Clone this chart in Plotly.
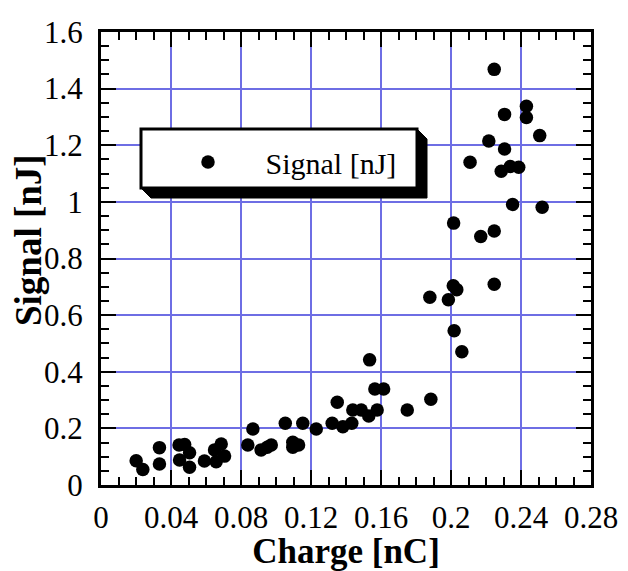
import plotly.graph_objects as go

# Charge [nC] vs Signal [nJ]
charge = [0.0201, 0.0239, 0.0334, 0.0334, 0.0446, 0.0478, 0.0506, 0.0449, 0.0506,
          0.0591, 0.0658, 0.0649, 0.0687, 0.0706, 0.0839, 0.0868, 0.0915, 0.0950,
          0.0973, 0.1053, 0.1096, 0.1096, 0.1129, 0.1153, 0.1230, 0.1321, 0.1350,
          0.1382, 0.1433, 0.1439, 0.1487, 0.1530, 0.1578, 0.1535, 0.1565, 0.1615,
          0.1750, 0.1885, 0.1879, 0.1985, 0.2013, 0.2033, 0.2018, 0.2062, 0.2015,
          0.2109, 0.2170, 0.2216, 0.2247, 0.2247, 0.2247, 0.2287, 0.2306, 0.2306,
          0.2339, 0.2352, 0.2387, 0.2431, 0.2431, 0.2507, 0.2521]
signal = [0.086, 0.055, 0.132, 0.074, 0.141, 0.143, 0.114, 0.088, 0.063,
          0.085, 0.082, 0.124, 0.145, 0.102, 0.141, 0.198, 0.124, 0.133,
          0.141, 0.218, 0.151, 0.133, 0.141, 0.218, 0.198, 0.218, 0.292,
          0.206, 0.218, 0.265, 0.265, 0.244, 0.265, 0.442, 0.339, 0.339,
          0.265, 0.303, 0.663, 0.654, 0.704, 0.690, 0.545, 0.471, 0.925,
          1.140, 0.878, 1.215, 0.897, 0.709, 1.468, 1.108, 1.187, 1.309,
          1.125, 0.991, 1.122, 1.338, 1.298, 1.234, 0.981]

x_ticks = [0, 0.04, 0.08, 0.12, 0.16, 0.2, 0.24, 0.28]
x_labels = ["0", "0.04", "0.08", "0.12", "0.16", "0.2", "0.24", "0.28"]
y_ticks = [0, 0.2, 0.4, 0.6, 0.8, 1.0, 1.2, 1.4, 1.6]
y_labels = ["0", "0.2", "0.4", "0.6", "0.8", "1", "1.2", "1.4", "1.6"]

W, H = 628, 571
L, R, T, B = 101, 37, 32, 86
pw, ph = W - L - R, H - T - B

def px(x):
    return (x - L) / pw

def py(y):
    return (H - B - y) / ph

serif = "Liberation Serif"
grid_blue = "#6e6ee4"

fig = go.Figure()
fig.add_trace(go.Scatter(
    x=charge, y=signal, mode="markers",
    name="\u00a0" * 5 + "Signal [nJ]",
    marker=dict(color="black", size=13.5),
))

axis_common = dict(
    ticks="inside", ticklen=15, tickwidth=2, tickcolor="black",
    showline=True, linecolor="black", linewidth=3, mirror="allticks",
    showgrid=True, gridcolor=grid_blue, gridwidth=2, zeroline=False,
    tickfont=dict(family=serif, size=31, color="black"),
)

fig.update_xaxes(
    range=[0, 0.28], tickvals=x_ticks, ticktext=x_labels,
    minor=dict(dtick=0.01, tick0=0, ticks="inside", ticklen=8, tickwidth=2,
               tickcolor="black", showgrid=False),
    ticklabelstandoff=3,
    title=dict(text="<b>Charge [nC]</b>", font=dict(family=serif, size=35, color="black"),
               standoff=6),
    **axis_common,
)
fig.update_yaxes(
    range=[0, 1.6], tickvals=y_ticks, ticktext=y_labels,
    minor=dict(dtick=0.05, tick0=0, ticks="inside", ticklen=8, tickwidth=2,
               tickcolor="black", showgrid=False),
    ticklabelstandoff=9,
    **axis_common,
)

# y title sits a bit above the plot centre in the original
fig.add_annotation(text="<b>Signal [nJ]</b>", textangle=-90, showarrow=False,
                   xref="paper", yref="paper", x=px(28), y=py(240),
                   xanchor="center", yanchor="middle",
                   font=dict(family=serif, size=37, color="black"))

# legend box with drop shadow
bx0, by0, bx1, by1 = 141, 129, 417, 188
sh = 10
shadow_path = "M {} {} L {} {} L {} {} L {} {} L {} {} Z".format(
    px(bx0), py(by1), px(bx0 + sh), py(by1 + sh), px(bx1 + sh), py(by1 + sh),
    px(bx1 + sh), py(by0 + sh), px(bx1), py(by0))
fig.add_shape(type="path", path=shadow_path, xref="paper", yref="paper",
              fillcolor="black", line=dict(color="black", width=1), layer="above")
fig.add_shape(type="rect", xref="paper", yref="paper",
              x0=px(bx0), x1=px(bx1), y0=py(by1), y1=py(by0),
              fillcolor="white", line=dict(color="black", width=3), layer="above")

fig.update_layout(
    width=W, height=H,
    margin=dict(l=L, r=R, t=T, b=B, autoexpand=False),
    paper_bgcolor="white", plot_bgcolor="white",
    showlegend=True,
    legend=dict(x=px(188), y=py(162), xanchor="left", yanchor="middle",
                bgcolor="rgba(0,0,0,0)", borderwidth=0,
                font=dict(family=serif, size=30, color="black")),
)

# drop the default body margin so the figure sits at the window's corner
fig.write_html("out.html", config={"displayModeBar": False},
               post_script="document.body.style.margin='0';")
